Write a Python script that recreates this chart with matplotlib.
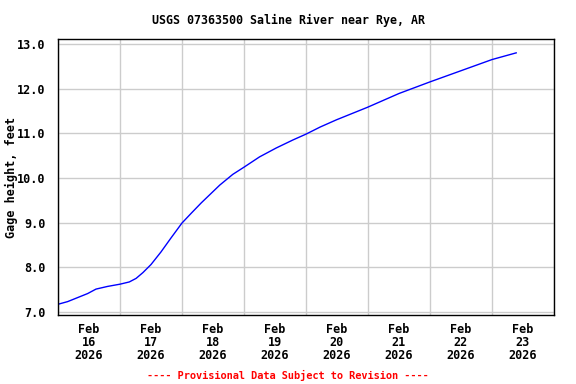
import numpy as np
import pandas as pd
import matplotlib
matplotlib.use("Agg")
from matplotlib import pyplot as plt

# gage height readings, days after 2026-02-16 00:00
day_offset = [0.0, 0.156, 0.317, 0.478, 0.613, 0.80, 1.0, 1.15, 1.26, 1.37,
              1.50, 1.66, 1.82, 2.0, 2.15, 2.31, 2.49, 2.61, 2.82, 3.0, 3.25,
              3.52, 3.79, 4.0, 4.23, 4.49, 4.99, 5.50, 6.0, 6.5, 7.0, 7.39]
gage_ft = [7.17, 7.23, 7.32, 7.41, 7.51, 7.57, 7.62, 7.67, 7.75, 7.88,
           8.06, 8.34, 8.65, 8.99, 9.21, 9.44, 9.68, 9.84, 10.08, 10.24, 10.47,
           10.67, 10.85, 10.98, 11.14, 11.30, 11.58, 11.89, 12.15, 12.40, 12.65, 12.80]
days = ["16", "17", "18", "19", "20", "21", "22", "23"]
title = "USGS 07363500 Saline River near Rye, AR"

start = pd.Timestamp("2026-02-16")
times = [start + pd.Timedelta(days=d) for d in day_offset]

plt.rcParams['font.family'] = ['DejaVu Sans Mono']
plt.rcParams['font.weight'] = 'bold'

fig = plt.figure(figsize=(5.76, 3.84), dpi=100)
ax = fig.add_axes([0.1007, 0.1797, 0.8611, 0.7187])

ax.plot(times, gage_ft, color='blue', lw=1)

midnights = [start + pd.Timedelta(days=i) for i in range(9)]
noons = [start + pd.Timedelta(days=i, hours=12) for i in range(8)]
ax.set_xticks(midnights)
ax.set_xticklabels([])
ax.set_xticks(noons, minor=True)
ax.set_xticklabels(["Feb\n%s\n2026" % d for d in days], minor=True,
                   fontsize=8.5, fontweight='bold', linespacing=1.0)
ax.set_xlim(start, start + pd.Timedelta(days=8))

ax.set_ylim(6.93, 13.11)
ax.set_yticks(np.arange(7, 13.5, 1.0))
ax.set_yticklabels(["%.1f" % v for v in np.arange(7, 13.5, 1.0)],
                   fontsize=8.5, fontweight='bold')

ax.tick_params(which='both', length=0)
ax.tick_params(axis='x', which='minor', pad=6)
ax.tick_params(axis='y', pad=9)
ax.grid(True, which='major', color='#cccccc', lw=1)
ax.set_axisbelow(True)
for s in ax.spines.values():
    s.set_linewidth(1)
    s.set_color('black')

ax.set_ylabel("Gage height, feet", fontsize=8.5, fontweight='bold', labelpad=-1)
fig.text(0.5, 0.947, title, ha='center', va='center', fontsize=8.4, fontweight='bold')
fig.text(0.5, 0.023, "---- Provisional Data Subject to Revision ----",
         ha='center', va='center', fontsize=7.4, fontweight='bold', color='red')

fig.savefig("out.png", dpi=100)
